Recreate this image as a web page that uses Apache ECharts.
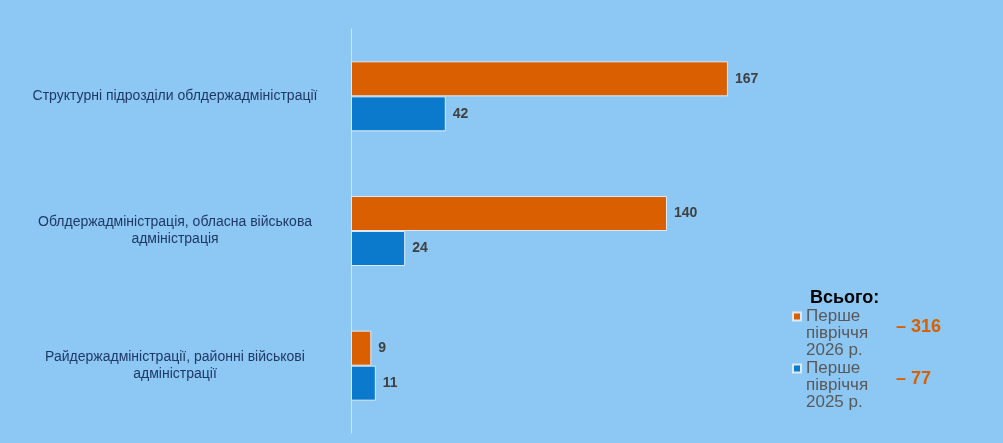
<!DOCTYPE html>
<html>
<head>
<meta charset="utf-8">
<script src="https://cdn.jsdelivr.net/npm/echarts@6/dist/echarts.min.js"></script>
<style>
html,body{margin:0;padding:0;background:#8DC8F5;}
#c{width:1003px;height:443px;}
</style>
</head>
<body>
<div id="c"></div>
<script>
var categories = [
  'Структурні підрозділи облдержадміністрації',
  'Облдержадміністрація, обласна військова\nадміністрація',
  'Райдержадміністрації, районні військові\nадміністрації'
];
var seriesNames = ['Перше півріччя 2026 р.', 'Перше півріччя 2025 р.'];
var legendLabels = ['Перше\nпівріччя\n2026 р.', 'Перше\nпівріччя\n2025 р.'];
var values2026 = [167, 140, 9];
var values2025 = [42, 24, 11];
var totalTitle = 'Всього:';

function sum(a){ return a.reduce(function(s,v){return s+v;},0); }

var chart = echarts.init(document.getElementById('c'));
var font = 'Liberation Sans, Arial, sans-serif';
var topSquare = 'path://M0,0L8,0L8,8L0,8Z M0,42';
chart.setOption({
  backgroundColor: '#8DC8F5',
  textStyle: {fontFamily: font},
  grid: {left: 351, top: 29, bottom: 10, width: 451.4, containLabel: false},
  xAxis: {type: 'value', min: 0, max: 200, show: false},
  yAxis: {
    type: 'category', data: categories, inverse: true,
    axisLine: {show: true, lineStyle: {color: '#D3E4F3', width: 1}},
    axisTick: {show: false},
    axisLabel: {align: 'center', margin: 176, color: '#1F3864', fontSize: 14, lineHeight: 17, fontFamily: font}
  },
  legend: {
    orient: 'vertical', left: 787, top: 303,
    itemWidth: 8, itemHeight: 42, itemGap: 1, icon: topSquare,
    data: seriesNames,
    formatter: function(n){ return legendLabels[seriesNames.indexOf(n)]; },
    textStyle: {color: '#595959', fontSize: 17, lineHeight: 17, fontFamily: font},
    selectedMode: false
  },
  title: {text: totalTitle, left: 805, top: 284, textStyle: {fontSize: 18, fontWeight: 'bold', color: '#000', fontFamily: font}},
  graphic: [
    {type: 'text', left: 896, top: 318, style: {text: '– ' + sum(values2026), fill: '#D95F00', font: 'bold 18px ' + font}},
    {type: 'text', left: 896, top: 370, style: {text: '– ' + sum(values2025), fill: '#D95F00', font: 'bold 18px ' + font}}
  ],
  series: [
    {
      name: seriesNames[0], type: 'bar', data: values2026, barWidth: 35, barGap: '0%',
      itemStyle: {color: '#D95F00', borderColor: '#DDEAF6', borderWidth: 1},
      label: {show: true, position: 'right', distance: 7, color: '#404040', fontWeight: 'bold', fontSize: 14, fontFamily: font}
    },
    {
      name: seriesNames[1], type: 'bar', data: values2025, barWidth: 35, barGap: '0%',
      itemStyle: {color: '#0B79CC', borderColor: '#DDEAF6', borderWidth: 1},
      label: {show: true, position: 'right', distance: 7, color: '#404040', fontWeight: 'bold', fontSize: 14, fontFamily: font}
    }
  ]
});
</script>
</body>
</html>
